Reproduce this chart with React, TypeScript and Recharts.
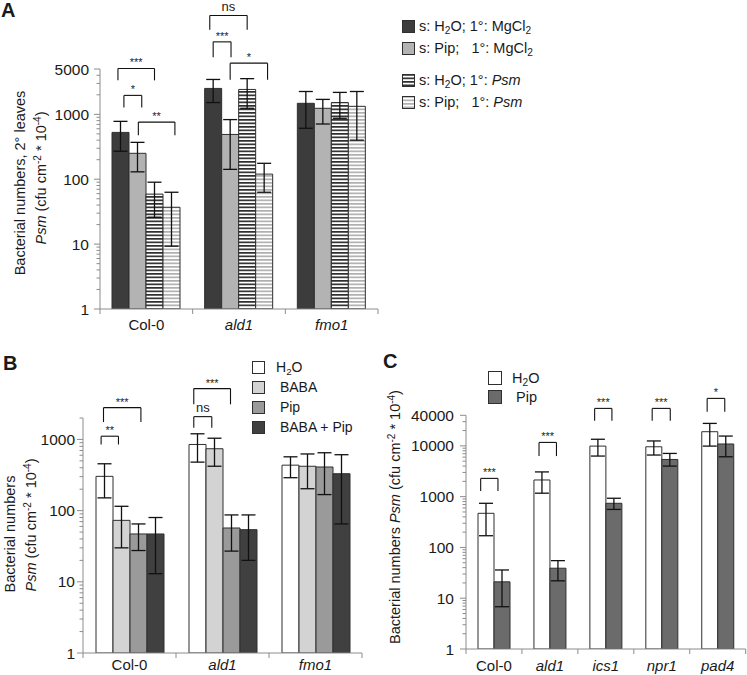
import React from "react";
import { BarChart, Bar, XAxis, YAxis, ErrorBar, ReferenceLine, ReferenceDot, Legend } from "recharts";

const FONT = "'Liberation Sans', Arial, Helvetica, sans-serif";
const AXIS = "#8c8c8c";
const EDGE = "#2f2f2f";
const INK = "#1a1a1a";

// ---- Panel A: 2° leaves, seed pretreatment x 1° inoculation
const A_CATS = ["Col-0", "ald1", "fmo1"];
const A_NAMES = ["s: H2O; 1°: MgCl2", "s: Pip;   1°: MgCl2", "s: H2O; 1°: Psm", "s: Pip;   1°: Psm"];
const A_H2O_MG = [527, 2510, 1480];
const A_H2O_MG_LO = [270, 1520, 610];
const A_H2O_MG_HI = [780, 3450, 2250];
const A_PIP_MG = [251, 490, 1240];
const A_PIP_MG_LO = [130, 142, 710];
const A_PIP_MG_HI = [370, 830, 1700];
const A_H2O_PSM = [59, 2420, 1520];
const A_H2O_PSM_LO = [26, 1240, 870];
const A_H2O_PSM_HI = [90, 3550, 2180];
const A_PIP_PSM = [37, 120, 1330];
const A_PIP_PSM_LO = [9.3, 63, 400];
const A_PIP_PSM_HI = [63, 176, 2250];
const A_TICKS = [1, 10, 100, 1000, 5000];

// ---- Panel B: BABA / Pip
const B_CATS = ["Col-0", "ald1", "fmo1"];
const B_NAMES = ["H2O", " BABA", " Pip", " BABA + Pip"];
const B_H2O = [303, 850, 435];
const B_H2O_LO = [151, 480, 290];
const B_H2O_HI = [455, 1200, 570];
const B_BABA = [73, 740, 420];
const B_BABA_LO = [30, 420, 203];
const B_BABA_HI = [115, 1040, 625];
const B_PIP = [47, 57, 410];
const B_PIP_LO = [27.5, 27, 168];
const B_PIP_HI = [65, 87, 650];
const B_BOTH = [47, 54, 330];
const B_BOTH_LO = [13, 20, 65];
const B_BOTH_HI = [80, 87, 610];
const B_TICKS = [1, 10, 100, 1000];

// ---- Panel C: signalling mutants
const C_CATS = ["Col-0", "ald1", "ics1", "npr1", "pad4"];
const C_NAMES = ["H2O", " Pip"];
const C_H2O = [470, 2130, 9900, 9600, 19000];
const C_H2O_LO = [170, 1170, 6300, 6600, 9900];
const C_H2O_HI = [740, 3070, 13500, 12500, 27700];
const C_PIP = [21, 39, 740, 5400, 10900];
const C_PIP_LO = [6.8, 22, 560, 4000, 6100];
const C_PIP_HI = [36, 55, 930, 7100, 15600];
const C_TICKS = [1, 10, 100, 1000, 10000, 40000];

// significance brackets: category, bar positions (bar index units), top / leg-end values
type Bracket = { cat: number; from: number; to: number; top: number; leg: number; text: string };
const A_BRACKETS: Bracket[] = [
  { cat: 0, from: -0.15, to: 2.0, top: 5100, leg: 3340, text: "***" },
  { cat: 0, from: 0.2, to: 1.25, top: 1960, leg: 1280, text: "*" },
  { cat: 0, from: 1.05, to: 3.2, top: 760, leg: 475, text: "**" },
  { cat: 1, from: -0.2, to: 2.0, top: 33300, leg: 20100, text: "ns" },
  { cat: 1, from: 0.0, to: 1.05, top: 13100, leg: 7620, text: "***" },
  { cat: 1, from: 1.0, to: 3.2, top: 6150, leg: 3420, text: "*" },
];
const B_BRACKETS: Bracket[] = [
  { cat: 0, from: -0.14, to: 0.88, top: 1110, leg: 850, text: "**" },
  { cat: 0, from: 0.0, to: 2.2, top: 2795, leg: 1753, text: "***" },
  { cat: 1, from: -0.16, to: 0.9, top: 2090, leg: 1462, text: "ns" },
  { cat: 1, from: -0.16, to: 2.0, top: 5175, leg: 3110, text: "***" },
];
const C_BRACKETS: Bracket[] = [
  { cat: 0, from: -0.27, to: 0.81, top: 2290, leg: 1290, text: "***" },
  { cat: 1, from: -0.12, to: 0.97, top: 11700, leg: 6300, text: "***" },
  { cat: 2, from: -0.14, to: 0.94, top: 54700, leg: 31200, text: "***" },
  { cat: 3, from: -0.04, to: 1.09, top: 54700, leg: 31200, text: "***" },
  { cat: 4, from: -0.1, to: 1.0, top: 86100, leg: 46900, text: "*" },
];

type Series = { name: string; fill: string; mean: number[]; lo: number[]; hi: number[] };

const A_SERIES: Series[] = [
  { name: A_NAMES[0], fill: "#3c3c3c", mean: A_H2O_MG, lo: A_H2O_MG_LO, hi: A_H2O_MG_HI },
  { name: A_NAMES[1], fill: "#b3b3b3", mean: A_PIP_MG, lo: A_PIP_MG_LO, hi: A_PIP_MG_HI },
  { name: A_NAMES[2], fill: "url(#stripeDark)", mean: A_H2O_PSM, lo: A_H2O_PSM_LO, hi: A_H2O_PSM_HI },
  { name: A_NAMES[3], fill: "url(#stripeLight)", mean: A_PIP_PSM, lo: A_PIP_PSM_LO, hi: A_PIP_PSM_HI },
];
const B_SERIES: Series[] = [
  { name: B_NAMES[0], fill: "#ffffff", mean: B_H2O, lo: B_H2O_LO, hi: B_H2O_HI },
  { name: B_NAMES[1], fill: "#d3d3d3", mean: B_BABA, lo: B_BABA_LO, hi: B_BABA_HI },
  { name: B_NAMES[2], fill: "#9a9a9a", mean: B_PIP, lo: B_PIP_LO, hi: B_PIP_HI },
  { name: B_NAMES[3], fill: "#404040", mean: B_BOTH, lo: B_BOTH_LO, hi: B_BOTH_HI },
];
const C_SERIES: Series[] = [
  { name: C_NAMES[0], fill: "#ffffff", mean: C_H2O, lo: C_H2O_LO, hi: C_H2O_HI },
  { name: C_NAMES[1], fill: "#6b6b6b", mean: C_PIP, lo: C_PIP_LO, hi: C_PIP_HI },
];

// minor log ticks (2..9 per decade) up to the axis top
function logTicks(majors: number[], max: number) {
  const out = [...majors];
  for (let p = 1; p < max; p *= 10) {
    for (let d = 2; d <= 9; d++) {
      const v = d * p;
      if (v <= max && !out.includes(v)) out.push(v);
    }
  }
  return out;
}

// H2O / MgCl2 subscripts, italic Psm
function rich(s: string) {
  return s.split(/(H2O|MgCl2|Psm)/).map((part, i) => {
    if (part === "H2O") return <span key={i}>H<sub style={{ fontSize: "0.7em", verticalAlign: "-0.3em", lineHeight: 0 }}>2</sub>O</span>;
    if (part === "MgCl2") return <span key={i}>MgCl<sub style={{ fontSize: "0.7em", verticalAlign: "-0.3em", lineHeight: 0 }}>2</sub></span>;
    if (part === "Psm") return <i key={i}>Psm</i>;
    return <span key={i}>{part}</span>;
  });
}

function YTick(props: any) {
  const { x, y, payload, majors, gap } = props;
  const major = majors.includes(payload.value);
  return (
    <g>
      <line x1={x - (major ? 6 : 3.5)} x2={x} y1={y} y2={y} stroke={AXIS} strokeWidth={1} />
      {major && (
        <text x={x - gap} y={y} dy="0.36em" textAnchor="end" fontSize={15.5} fontFamily={FONT} fill={INK}>
          {payload.value}
        </text>
      )}
    </g>
  );
}

function XTick(props: any) {
  const { x, y, payload, index, half, dy } = props;
  const italic = payload.value !== "Col-0";
  return (
    <g>
      {index === 0 && <line x1={x - half} x2={x - half} y1={y} y2={y + 5} stroke={AXIS} />}
      <line x1={x + half} x2={x + half} y1={y} y2={y + 5} stroke={AXIS} />
      <text x={x} y={y + dy} textAnchor="middle" fontSize={15} fontStyle={italic ? "italic" : "normal"} fontFamily={FONT} fill={INK}>
        {payload.value}
      </text>
    </g>
  );
}

type LegendCfg = { left: number; top: number; box: number; rowH: number; textGap: number; fontSize: number; breakAfter?: number };

function LegendRows({ series, cfg }: { series: Series[]; cfg: LegendCfg }) {
  return (
    <div style={{ fontFamily: FONT, fontSize: cfg.fontSize, color: INK }}>
      {series.map((s, i) => (
        <div
          key={s.name}
          style={{
            display: "flex",
            alignItems: "center",
            height: cfg.rowH,
            marginTop: cfg.breakAfter !== undefined && i === cfg.breakAfter + 1 ? 10 : 0,
            whiteSpace: "pre",
          }}
        >
          <svg width={cfg.box} height={cfg.box} style={{ flex: "none" }}>
            <rect x={0.5} y={0.5} width={cfg.box - 1} height={cfg.box - 1} fill={s.fill} stroke={EDGE} strokeWidth={1} />
          </svg>
          <span style={{ marginLeft: cfg.textGap }}>{rich(s.name)}</span>
        </div>
      ))}
    </div>
  );
}

type PanelProps = {
  left: number;
  top: number;
  width: number;
  height: number;
  margin: { top: number; right: number; bottom: number; left: number };
  cats: string[];
  series: Series[];
  domain: [number, number];
  majors: number[];
  barSize: number;
  brackets: Bracket[];
  labelGap: number;
  xDy: number;
  xAxisHeight: number;
  legend: LegendCfg;
  children?: React.ReactNode;
};

const Y_W = 60;

function Panel(p: PanelProps) {
  const n = p.cats.length;
  const k = p.series.length;
  const plotW = p.width - p.margin.left - p.margin.right - Y_W;
  const band = plotW / n;
  const groupOff = Math.floor((band - k * p.barSize) / 2);
  // bar-index position -> value on the hidden helper axis, whose domain [0, n-1] spans the plot width
  const toX = (cat: number, pos: number) => ((cat + (groupOff + (pos + 0.5) * p.barSize) / band) * (n - 1)) / n;

  const rows = p.cats.map((cat, i) => {
    const r: Record<string, any> = { cat };
    p.series.forEach((s, j) => {
      r[`v${j}`] = s.mean[i];
      r[`e${j}`] = [s.mean[i] - s.lo[i], s.hi[i] - s.mean[i]];
    });
    return r;
  });
  const ticks = logTicks(p.majors, p.domain[1]);
  const line = { stroke: "#111", strokeWidth: 1.1, ifOverflow: "visible" as const, xAxisId: "n" };

  return (
    <div style={{ position: "absolute", left: p.left, top: p.top }}>
      <BarChart width={p.width} height={p.height} data={rows} margin={p.margin} barGap={0}>
        {p.children}
        <XAxis
          dataKey="cat"
          height={p.xAxisHeight}
          axisLine={{ stroke: AXIS }}
          tickLine={false}
          tickSize={0}
          tickMargin={0}
          interval={0}
          tick={(tp: any) => <XTick {...tp} half={band / 2} dy={p.xDy} />}
        />
        <XAxis xAxisId="n" type="number" domain={[0, n - 1]} hide allowDataOverflow />
        <YAxis
          type="number"
          scale="log"
          domain={p.domain}
          allowDataOverflow
          ticks={ticks}
          interval={0}
          width={Y_W}
          axisLine={{ stroke: AXIS }}
          tickLine={false}
          tickSize={0}
          tickMargin={0}
          tick={(tp: any) => <YTick {...tp} majors={p.majors} gap={p.labelGap} />}
        />
        {p.series.map((s, j) => (
          <Bar key={s.name} dataKey={`v${j}`} name={s.name} fill={s.fill} stroke={EDGE} strokeWidth={1} barSize={p.barSize} isAnimationActive={false}>
            <ErrorBar dataKey={`e${j}`} width={7} stroke="#111" strokeWidth={1.3} direction="y" isAnimationActive={false} />
          </Bar>
        ))}
        {p.brackets.map((b, i) => {
          const x1 = toX(b.cat, b.from);
          const x2 = toX(b.cat, b.to);
          return [
            <ReferenceLine key={`l${i}`} {...line} segment={[{ x: x1, y: b.leg }, { x: x1, y: b.top }]} />,
            <ReferenceLine key={`t${i}`} {...line} segment={[{ x: x1, y: b.top }, { x: x2, y: b.top }]} />,
            <ReferenceLine key={`r${i}`} {...line} segment={[{ x: x2, y: b.top }, { x: x2, y: b.leg }]} />,
            <ReferenceDot
              key={`s${i}`}
              xAxisId="n"
              x={(x1 + x2) / 2}
              y={b.top}
              r={0}
              ifOverflow="visible"
              shape={(dp: any) => (
                <text
                  x={dp.cx}
                  y={dp.cy - (b.text === "ns" ? 5 : 2)}
                  textAnchor="middle"
                  fontSize={b.text === "ns" ? 13 : 11}
                  fontFamily={FONT}
                  fill={INK}
                >
                  {b.text}
                </text>
              )}
            />,
          ];
        })}
        <Legend
          layout="horizontal"
          verticalAlign="middle"
          align="center"
          wrapperStyle={{ left: p.legend.left, top: p.legend.top, width: 260, height: "auto" }}
          content={() => <LegendRows series={p.series} cfg={p.legend} />}
        />
      </BarChart>
    </div>
  );
}

const sup = { baselineShift: "super", fontSize: 10 } as const;

export default function App() {
  return (
    <div style={{ position: "absolute", left: 0, top: 0, width: 747, height: 675, background: "#fff", fontFamily: FONT }}>
      <Panel
        left={0}
        top={0}
        width={747}
        height={335}
        margin={{ top: 69, right: 369, bottom: 0, left: 40 }}
        cats={A_CATS}
        series={A_SERIES}
        domain={[1, 5000]}
        majors={A_TICKS}
        barSize={17}
        brackets={A_BRACKETS}
        labelGap={11}
        xDy={21}
        xAxisHeight={26}
        legend={{ left: 402, top: 15, box: 13, rowH: 22, textGap: 4, fontSize: 14.5, breakAfter: 1 }}
      >
        <defs>
          <pattern id="stripeDark" width="4" height="3.5" patternUnits="userSpaceOnUse">
            <rect width="4" height="3.5" fill="#ffffff" />
            <rect width="4" height="1.7" fill="#2e2e2e" />
          </pattern>
          <pattern id="stripeLight" width="4" height="3.5" patternUnits="userSpaceOnUse">
            <rect width="4" height="3.5" fill="#ffffff" />
            <rect width="4" height="1.7" fill="#b0b0b0" />
          </pattern>
        </defs>
        <text x={1} y={17} fontWeight="bold" fontSize={20} fontFamily={FONT} fill={INK}>A</text>
        <text transform="translate(20,183) rotate(-90)" dy="0.35em" textAnchor="middle" fontSize={14.5} fontFamily={FONT} fill={INK}>
          Bacterial numbers, 2° leaves
        </text>
        <text transform="translate(41,178) rotate(-90)" dy="0.35em" textAnchor="middle" fontSize={14.5} fontFamily={FONT} fill={INK}>
          <tspan fontStyle="italic">Psm</tspan> (cfu cm<tspan {...sup}>-2</tspan> * 10<tspan {...sup}>-4</tspan>)
        </text>
      </Panel>

      <Panel
        left={0}
        top={330}
        width={370}
        height={345}
        margin={{ top: 88, right: 8, bottom: 0, left: 23 }}
        cats={B_CATS}
        series={B_SERIES}
        domain={[1, 2000]}
        majors={B_TICKS}
        barSize={17}
        brackets={B_BRACKETS}
        labelGap={8}
        xDy={17}
        xAxisHeight={22}
        legend={{ left: 252, top: 27, box: 13, rowH: 20, textGap: 11, fontSize: 14 }}
      >
        <text x={3} y={40} fontWeight="bold" fontSize={20} fontFamily={FONT} fill={INK}>B</text>
        <text transform="translate(10,204) rotate(-90)" dy="0.35em" textAnchor="middle" fontSize={14.5} fontFamily={FONT} fill={INK}>
          Bacterial numbers
        </text>
        <text transform="translate(31,195) rotate(-90)" dy="0.35em" textAnchor="middle" fontSize={14.5} fontFamily={FONT} fill={INK}>
          <tspan fontStyle="italic">Psm</tspan> (cfu cm<tspan {...sup}>-2</tspan> * 10<tspan {...sup}>-4</tspan>)
        </text>
      </Panel>

      <Panel
        left={370}
        top={330}
        width={377}
        height={345}
        margin={{ top: 85.3, right: 1.3, bottom: 0, left: 36 }}
        cats={C_CATS}
        series={C_SERIES}
        domain={[1, 40000]}
        majors={C_TICKS}
        barSize={16}
        brackets={C_BRACKETS}
        labelGap={12}
        xDy={22}
        xAxisHeight={26}
        legend={{ left: 118, top: 38.5, box: 14, rowH: 19, textGap: 10, fontSize: 14.5 }}
      >
        <text x={13} y={38} fontWeight="bold" fontSize={20} fontFamily={FONT} fill={INK}>C</text>
        <text transform="translate(25,187) rotate(-90)" dy="0.35em" textAnchor="middle" fontSize={14.5} fontFamily={FONT} fill={INK}>
          Bacterial numbers <tspan fontStyle="italic">Psm</tspan> (cfu cm<tspan {...sup}>-2</tspan> * 10<tspan {...sup}>-4</tspan>)
        </text>
      </Panel>
    </div>
  );
}
